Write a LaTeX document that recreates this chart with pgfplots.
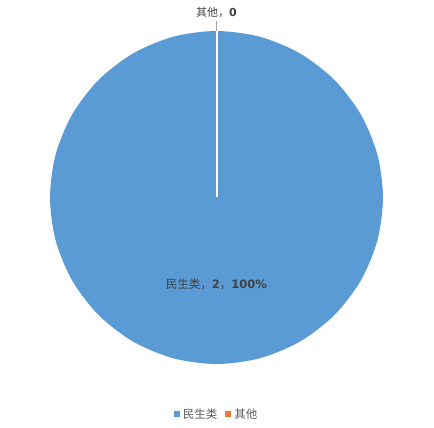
\documentclass[border=0pt]{standalone}
\usepackage{pgfplots}
\pgfplotsset{compat=1.18}
\usepackage{fontspec}
\setmainfont{Noto Sans CJK SC}
\newfontfamily\numfont{DejaVu Sans}
\definecolor{pieblue}{HTML}{5B9BD5}
\definecolor{pieorange}{HTML}{ED7D31}
\definecolor{labelgray}{HTML}{404040}
\definecolor{legendgray}{HTML}{595959}
\definecolor{leadgray}{HTML}{A6A6A6}
\newcommand{\num}[1]{{\numfont\bfseries #1}}
\begin{document}
\begin{tikzpicture}
\begin{axis}[
    scale only axis,
    width=434pt, height=428pt,
    xmin=-216.5, xmax=217.5,
    ymin=-230.5, ymax=197.5,
    axis line style={draw=none},
    ticks=none,
    clip=false,
    legend style={at={(axis cs:0,-217)}, anchor=center, draw=none, fill=none,
        legend columns=-1, font=\fontsize{11.5}{13}\selectfont, text=legendgray,
        /tikz/every odd column/.append style={column sep=1pt},
        /tikz/every even column/.append style={column sep=6pt}},
    legend image code/.code={\fill[#1, draw=none] (0pt,-3pt) rectangle (6pt,3pt);},
]
% 民生类 = 2 of 2 (100%): the slice is the whole disc
\addplot[fill=pieblue, draw=none, data cs=polar, smooth cycle, forget plot] coordinates {
  (90,166.5) (75,166.5) (60,166.5) (45,166.5) (30,166.5) (15,166.5)
  (0,166.5) (-15,166.5) (-30,166.5) (-45,166.5) (-60,166.5) (-75,166.5)
  (-90,166.5) (-105,166.5) (-120,166.5) (-135,166.5) (-150,166.5) (-165,166.5)
  (-180,166.5) (-195,166.5) (-210,166.5) (-225,166.5) (-240,166.5) (-255,166.5)
};
% 其他 = 0: only the slice border at 12 o'clock remains
\addplot[white, line width=2pt, forget plot] coordinates {(0,0) (0,166.5)};
\addplot[leadgray, line width=0.8pt, forget plot] coordinates {(0,166.5) (0,176)};
\node[text=labelgray, font=\fontsize{11}{12}\selectfont] at (axis cs:0,185) {其他，\num{0}};
\node[text=labelgray, font=\fontsize{11.5}{13}\selectfont] at (axis cs:0,-86.5) {民生类，\num{2}，\num{100\%}};
\addlegendimage{fill=pieblue}
\addlegendentry{民生类}
\addlegendimage{fill=pieorange}
\addlegendentry{其他}
\end{axis}
\end{tikzpicture}
\end{document}
